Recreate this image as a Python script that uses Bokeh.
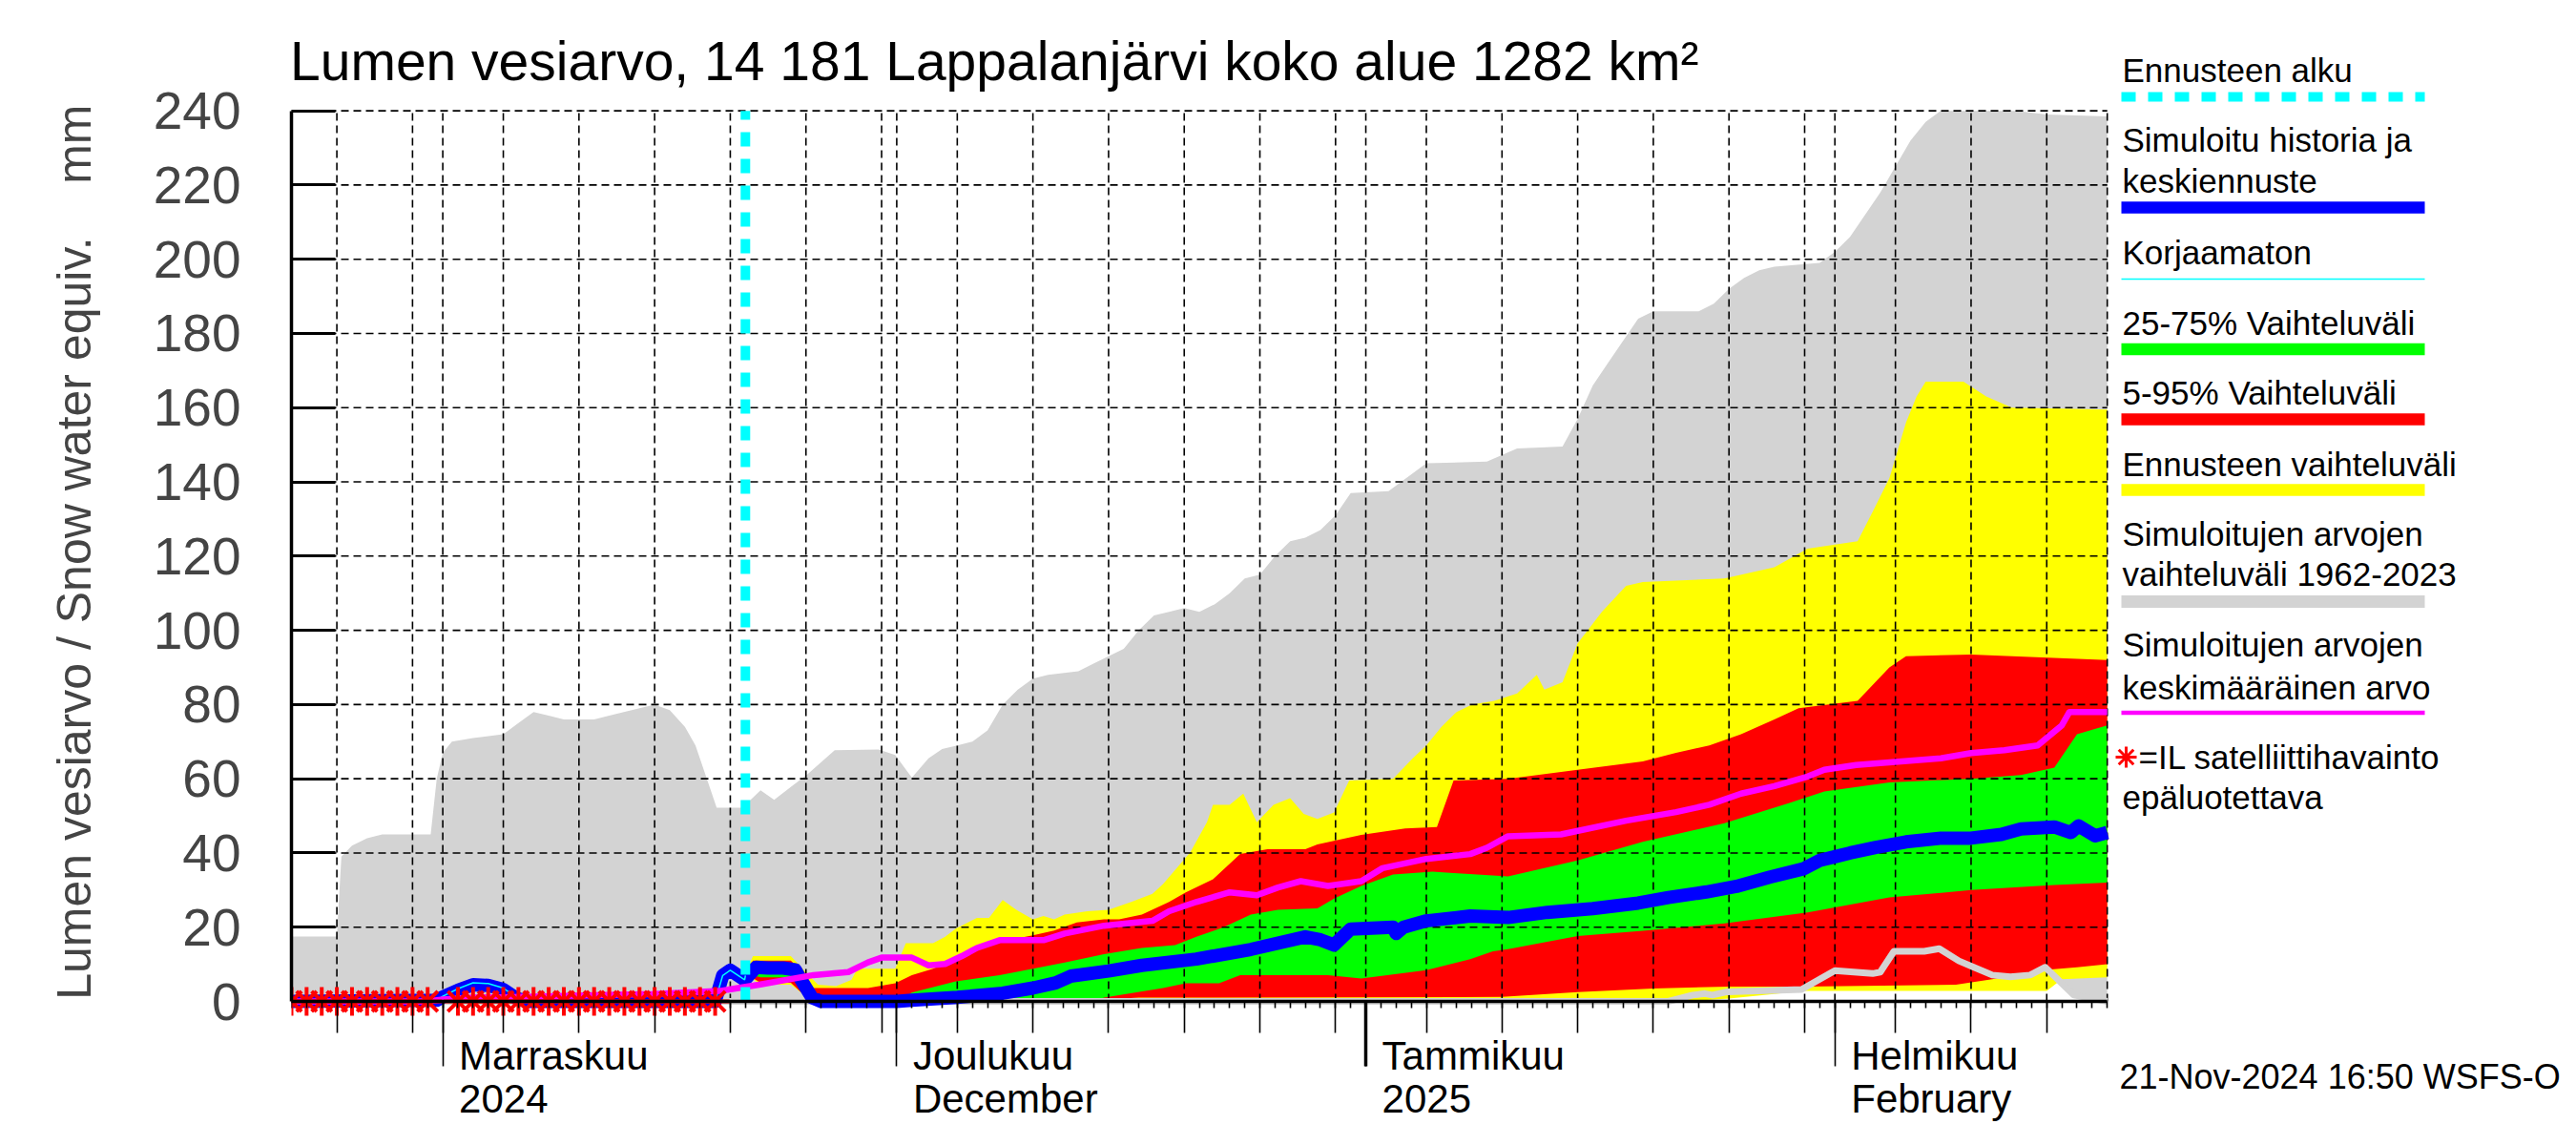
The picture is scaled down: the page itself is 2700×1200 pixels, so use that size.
import datetime as dt
from bokeh.plotting import figure
from bokeh.models import Range1d, FixedTicker, LinearAxis
from bokeh.core.properties import value
from bokeh.embed import file_html
from bokeh.resources import INLINE

FONT = "Liberation Sans"
START = dt.date(2024, 10, 22)      # day 0
END_DAY = 120                      # 19-Feb-2025
FORECAST_START = 30                # 21-Nov-2024
Y_MAX = 240

TITLE = "Lumen vesiarvo, 14 181 Lappalanjärvi koko alue 1282 km²"
NB = "\u00a0"
Y_LABEL = NB * 4 + "Lumen vesiarvo / Snow water equiv." + NB * 4 + "mm"
FOOTER = "21-Nov-2024 16:50 WSFS-O"
Y_TICKS = list(range(0, 241, 20))
MONTH_LINE1 = ["Marraskuu", "Joulukuu", "Tammikuu", "Helmikuu"]
MONTH_LINE2 = ["2024", "December", "2025", "February"]

# ---- data (day index from 22-Oct-2024, value mm) ----
HIST_MAX_D = [0, 3, 3.3, 4, 5, 6, 9.2, 9.6, 10, 10.6, 12, 14, 15, 16, 17, 18, 20, 21, 23, 24,
              25, 26, 26.7, 28.1, 29.8, 31, 31.9, 33, 34.1, 35.9, 38.8, 39.9, 41, 42.1, 43, 44, 45, 46, 47, 48,
              49, 50, 52, 53, 54, 55, 56, 57, 58, 59, 60, 61, 62, 63, 64, 65, 66, 67, 68, 69,
              70, 72.5, 74, 75, 79, 81, 84, 85, 86, 87, 88, 89, 90, 93, 94, 95, 96, 97, 98, 101,
              102, 103, 104, 105, 106, 107, 108, 109, 114, 116, 120]
HIST_MAX_V = [17.5, 17.5, 39, 42, 44, 45, 45, 60, 67, 70, 71, 72, 75, 78, 77, 76, 76, 77, 79, 80,
              78.5, 74, 69, 52.2, 52.2, 56.9, 54.3, 57.8, 61.2, 67.7, 67.9, 66.4, 60.3, 65.5, 68, 69, 70, 73, 80, 84,
              87, 88, 89, 91, 93, 95, 100, 104, 105, 106, 105, 107, 110, 114, 115, 120, 124, 125, 127, 131,
              137, 137.5, 142, 145, 145.5, 149, 149.5, 157, 166, 172, 178, 184, 186, 186, 188, 192, 195, 197, 198, 199,
              202, 206, 212, 218, 225, 232, 237, 240, 240, 239, 238.5]
HIST_MIN_D = [0, 91, 92.6, 93.4, 93.9, 94.9, 99.8, 102, 104.5, 105, 105.9, 107.9, 108.9, 110.2,
              112.4, 113.6, 114.9, 115.9, 117.8, 120]
HIST_MIN_V = [0, 0, 1.7, 2.1, 1.7, 2.6, 3.2, 8.3, 7.5, 7.9, 13.5, 13.5, 14.2, 10.9,
              7.1, 6.6, 7.1, 9.2, 1.7, 0]

FC_MAX_D = [30, 30.5, 33, 33.5, 34.8, 36, 37, 37.4, 39.9, 40.6, 42.4, 43.2, 43.9, 45.3, 46.1, 47, 47.9, 49, 49.7, 50.4,
            51.1, 52.6, 54, 55.5, 56.9, 57.6, 59.4, 60.5, 60.9, 62, 62.9, 63.8, 64.9, 66, 66.9, 67.8, 68.9, 69.9, 72.8, 74.1,
            75, 76, 77, 78, 79.5, 81, 82.3, 82.8, 84, 85, 86.6, 88.2, 89.3, 94.7, 98, 100.2, 103.5, 104.5, 105.6, 106.7,
            107.4, 108, 110.5, 112, 113.7, 120]
FC_MAX_V = [7.5, 12.2, 12.2, 10, 4.5, 4.1, 5.8, 8.8, 8.8, 15.7, 15.7, 17.4, 19.6, 22.5, 22.5, 27.3, 24.7, 22.1, 23, 22.1,
            23.4, 24.3, 24.7, 26.8, 29, 31.6, 40.2, 48.3, 53, 53, 56, 48.3, 53, 54.8, 50.5, 49.2, 50.9, 59.5, 60, 65.5,
            69, 74, 78, 80, 81, 83, 88, 84, 86, 96.5, 105, 112, 113, 114, 117, 122, 124, 132, 141, 156,
            163, 167, 167, 163, 160, 159.5]
FC_MIN_D = [30, 31, 33, 33.8, 34.5, 92, 95, 100, 116, 117, 120]
FC_MIN_V = [7.5, 4.5, 4.5, 2, 0, 0, 0.8, 2.8, 2.8, 6, 6.5]

P95_D = [30, 30.5, 33, 33.5, 34.5, 38.1, 39.9, 41, 42.4, 43.9, 45.3, 46.8, 49, 50.4, 51.9, 53.7, 54.7, 56.2, 58, 59.1,
         60.9, 62.7, 64.5, 67, 67.8, 70.7, 73.6, 75.7, 76.8, 80.4, 85, 89.3, 91.5, 93.7, 95.8, 98, 99.6, 103.5, 105.6, 106.7,
         111, 120]
P95_V = [7.5, 11, 11, 9, 3.6, 3.6, 4.9, 7.1, 8.8, 11.4, 14, 16.1, 17.8, 19.1, 21.3, 22.1, 22.1, 23.4, 26.8, 29.4,
         32.9, 39.7, 41, 41, 42.3, 44.9, 46.6, 47, 59.5, 60, 62.4, 64.7, 67, 69, 72, 76, 79, 81, 90, 93,
         93.5, 92]
P05_D = [30, 31, 33, 33.8, 34.5, 53, 54, 56, 80, 85, 90, 95, 100, 110, 112.4, 115.9, 118, 120]
P05_V = [7.5, 5, 5, 2, 0, 0, 0.6, 1, 1.2, 2.5, 3.5, 4, 4, 4.5, 6, 8.5, 9.2, 10]

P75_D = [30, 30.5, 33, 33.5, 34.5, 35, 40, 41, 43.9, 46.8, 49, 51.1, 53.7, 56.2, 58.4, 59.8, 61.6, 63.4, 65.2, 67.8,
         68.9, 70.7, 72.8, 75.4, 76.8, 80.4, 85, 89.3, 94.7, 99, 101.3, 105.6, 111, 114.3, 116.5, 118, 120]
P75_V = [7.5, 10, 10, 8, 1, 0, 0, 2.4, 5.4, 7.1, 8.8, 10.5, 12.7, 14.4, 15.2, 17.4, 20, 23.4, 24.7, 25.1,
         27.7, 31.1, 34.2, 35, 34.6, 33.7, 38, 43, 48, 53.5, 56.6, 59, 60, 61, 63, 72, 74.4]
P25_D = [30, 31, 33, 33.8, 34.5, 53, 53.7, 57.6, 59.1, 61.3, 62.7, 68.5, 70.7, 75, 77.9, 79.4, 80.4, 85, 89.3, 94.7,
         100.2, 105.6, 111, 116.5, 120]
P25_V = [7.5, 6.5, 6.5, 3, 0, 0, 1, 3.6, 4.9, 4.9, 7.1, 7.1, 6.2, 8.4, 11.4, 13.5, 14.1, 17.6, 19, 21,
         24, 28, 30, 31.4, 32]

SIM_D = [0, 9.6, 10, 11, 12, 13, 14, 14.8, 15.5, 28, 28.5, 29, 29.95, 30.7, 31.5, 32.5, 33.3, 33.8, 34.4, 35,
         40, 41, 44, 47, 49, 50.5, 51.5, 54, 56.2, 59.8, 63.4, 67, 68, 68.9, 70, 72.8, 73, 73.5, 75, 77.9,
         80.4, 83, 86, 89, 91, 93.5, 95.5, 97.7, 99.9, 101, 102, 103, 104.7, 106.7, 109, 111, 113, 114.3, 116.5, 117.6,
         118.1, 119.2, 120]
SIM_V = [0, 0.3, 1.2, 3, 4.5, 4.3, 3.2, 1, 0, 0, 7, 8.4, 5.8, 9.2, 9, 9, 8.5, 5, 1, 0,
         0, 0.3, 1.1, 2.2, 3.6, 5, 6.8, 8.2, 9.7, 11.4, 14, 17.4, 16.6, 15.2, 19.5, 20, 18.3, 20, 21.7, 23,
         22.6, 24, 25, 26.5, 28, 29.5, 31, 33.5, 35.7, 38, 39, 40, 41.5, 43, 44, 44, 45, 46.5, 47, 45.5,
         47.3, 44.6, 45.5]
UNCORR_D = [0, 9.6, 10, 11, 12, 13, 14, 14.8, 15.5, 28, 28.5, 29, 29.95, 30]
UNCORR_V = [0, 0.3, 1.4, 3.4, 5, 4.8, 3.6, 1.2, 0, 0, 7, 8.4, 5.8, 7]

MEAN_D = [0, 9, 10, 12, 16, 20, 24, 28.3, 30.9, 34.5, 36.8, 38.1, 39, 41, 42.1, 43.2, 44.3, 45.3, 46.8, 49.7,
          51.1, 53.7, 56.9, 58, 59.8, 62, 63.8, 65.2, 66.7, 68.5, 70.7, 72.1, 75, 77.9, 79, 80.4, 83.9, 88.2, 91.5, 93.7,
          95.8, 98, 100.2, 101.3, 103.4, 109, 111, 113.2, 115.4, 117, 117.5, 120]
MEAN_V = [0, 0, 0.5, 1, 1.3, 1.7, 2, 2.8, 4.5, 7.1, 7.9, 10.5, 11.8, 11.8, 9.7, 10.1, 12.2, 14.4, 16.5, 16.5,
          18.3, 20.4, 21.7, 24.3, 26.8, 29.4, 28.6, 30.7, 32.4, 31.1, 32.4, 35.9, 38.4, 39.7, 41.4, 44.5, 45, 48.7, 51, 53,
          56, 58, 60.6, 62.4, 63.7, 65.5, 66.9, 67.7, 69, 74.4, 78, 78]

SAT_D = [0, 1, 2, 3, 4, 5, 6, 7, 8, 9, 11, 12, 13, 14, 15, 16, 17, 18, 19, 20, 21, 22, 23, 24, 25, 26, 27, 28]
SAT_V = [0] * len(SAT_D)

GRAY, YELLOW, RED, GREEN = "#d3d3d3", "#ffff00", "#ff0000", "#00ff00"
BLUE, CYAN, MAGENTA = "#0000ff", "#00ffff", "#ff00ff"

# ---- layout constants (canvas pixels) ----
W, H = 2684, 1184
LEFT = 305              # frame left = day 0
TOP = 28                # frame top
ZERO_Y = 1049           # canvas y of 0 mm
PX_DAY = 15.86
PX_MM = 3.889
BASE_SHIFT = 0.33       # text glyph baseline correction (fraction of font size)


def dx(px):
    return (px - LEFT) / PX_DAY


def dy(py):
    return (ZERO_Y - py) / PX_MM


def ty(baseline, size):
    return dy(baseline - BASE_SHIFT * size)


# ---- calendar ticks ----
dates = [START + dt.timedelta(days=d) for d in range(END_DAY + 1)]
all_days = list(range(END_DAY + 1))
month_days = [d for d, t in enumerate(dates) if t.day == 1]
five_days = [d for d, t in enumerate(dates) if t.day in (5, 10, 15, 20, 25, 30)]
grid_days = sorted(five_days + month_days)
year_days = [d for d in month_days if dates[d].month == 1]

p = figure(width=W, height=H,
           x_range=Range1d(0, (W - LEFT) / PX_DAY),
           y_range=Range1d(-(H - ZERO_Y) / PX_MM, (ZERO_Y - TOP) / PX_MM),
           output_backend="svg", toolbar_location=None, x_axis_location=None,
           min_border_left=LEFT, min_border_right=0, min_border_top=TOP, min_border_bottom=0)
p.grid.visible = False
p.outline_line_color = None
p.background_fill_color = "white"
p.border_fill_color = "white"


def band(xu, yu, xl, yl, color):
    p.patch(x=list(xu) + list(xl)[::-1], y=list(yu) + list(yl)[::-1],
            fill_color=color, line_color=None, level="image")


band(HIST_MAX_D, HIST_MAX_V, HIST_MIN_D, HIST_MIN_V, GRAY)
band(FC_MAX_D, FC_MAX_V, FC_MIN_D, FC_MIN_V, YELLOW)
band(P95_D, P95_V, P05_D, P05_V, RED)
band(P75_D, P75_V, P25_D, P25_V, GREEN)

# dashed grid inside the data box
gx = grid_days + [END_DAY]
p.segment(x0=gx, y0=[0] * len(gx), x1=gx, y1=[Y_MAX] * len(gx), line_color="black",
          line_width=1.6, line_dash="8 5", level="underlay")
p.segment(x0=[0] * len(Y_TICKS), y0=Y_TICKS, x1=[END_DAY] * len(Y_TICKS), y1=Y_TICKS,
          line_color="black", line_width=1.6, line_dash="8 5", level="underlay")

p.line(HIST_MIN_D, HIST_MIN_V, line_color=GRAY, line_width=7, line_join="round")
p.line(SIM_D, SIM_V, line_color=BLUE, line_width=14, line_join="round")
p.line(UNCORR_D, UNCORR_V, line_color=CYAN, line_width=1.5)
p.line(MEAN_D, MEAN_V, line_color=MAGENTA, line_width=6.5, line_join="round")
p.line([FORECAST_START, FORECAST_START], [0, Y_MAX], line_color=CYAN, line_width=10, line_dash="15 13")
p.scatter(SAT_D, SAT_V, marker="asterisk", size=30, line_color=RED, line_width=4)

# y axis
ya = p.yaxis[0]
ya.bounds = (0, Y_MAX)
ya.ticker = FixedTicker(ticks=Y_TICKS, minor_ticks=[])
ya.major_tick_in = 46
ya.major_tick_out = 0
ya.major_tick_line_width = 3
ya.axis_line_width = 3.5
ya.major_label_text_font = FONT
ya.major_label_text_font_size = "55px"
ya.major_label_standoff = 53
ya.axis_label = Y_LABEL
ya.axis_label_text_font = FONT
ya.axis_label_text_font_size = "50px"
ya.axis_label_text_font_style = "normal"
ya.axis_label_standoff = 52

# x axis at 0 mm, ticks pointing down
blank = {d: "" for d in all_days}
common = dict(fixed_location=0, bounds=(0, END_DAY), major_label_overrides=blank,
              major_label_text_font_size="0px", major_label_standoff=0, major_tick_out=0)
xa = LinearAxis(ticker=FixedTicker(ticks=grid_days, minor_ticks=all_days),
                major_tick_in=33, minor_tick_in=7, minor_tick_out=0,
                major_tick_line_width=1.6, minor_tick_line_width=1.6, axis_line_width=3.5, **common)
p.add_layout(xa, "above")
ma = LinearAxis(ticker=FixedTicker(ticks=month_days, minor_ticks=[]), axis_line_color=None,
                major_tick_in=68, major_tick_line_width=1.6, **common)
p.add_layout(ma, "above")
ja = LinearAxis(ticker=FixedTicker(ticks=year_days, minor_ticks=[]), axis_line_color=None,
                major_tick_in=68, major_tick_line_width=3.5, **common)
p.add_layout(ja, "above")

txt = dict(text_font=value(FONT), text_baseline="alphabetic", text_align="left", text_color="black")

# month labels
p.text(x=[d + 17 / PX_DAY for d in month_days], y=[ty(1120, 42)] * 4, text=MONTH_LINE1,
       text_font_size="42px", **txt)
p.text(x=[d + 17 / PX_DAY for d in month_days], y=[ty(1165, 42)] * 4, text=MONTH_LINE2,
       text_font_size="42px", **txt)

# title
p.text(x=[dx(303.5)], y=[ty(82, 57)], text=[TITLE], text_font_size="57px", **txt)

# legend
LEG_TEXT = ["Ennusteen alku", "Simuloitu historia ja", "keskiennuste", "Korjaamaton",
            "25-75% Vaihteluväli", "5-95% Vaihteluväli", "Ennusteen vaihteluväli",
            "Simuloitujen arvojen", "vaihteluväli 1962-2023", "Simuloitujen arvojen",
            "keskimääräinen arvo", "=IL satelliittihavainto", "epäluotettava"]
LEG_TEXT_X = [2224] * 11 + [2241, 2224]
LEG_TEXT_Y = [85, 158, 201, 276, 349.5, 422.7, 497.7, 571, 613, 687, 732, 805, 847]
p.text(x=[dx(v) for v in LEG_TEXT_X], y=[ty(v, 35) for v in LEG_TEXT_Y], text=LEG_TEXT,
       text_font_size="35px", **txt)

LEG_LINES = [(101, CYAN, 10, "15 13"), (217, BLUE, 12.5, "solid"), (292, CYAN, 1.5, "solid"),
             (365.5, GREEN, 12.5, "solid"), (439, RED, 12.5, "solid"), (513, YELLOW, 12.5, "solid"),
             (630, GRAY, 13, "solid"), (746.5, MAGENTA, 4.5, "solid")]
for yy, col, w, dash in LEG_LINES:
    p.segment(x0=[dx(2223)], y0=[dy(yy)], x1=[dx(2541)], y1=[dy(yy)],
              line_color=col, line_width=w, line_dash=dash)
p.scatter(x=[dx(2228)], y=[dy(793)], marker="asterisk", size=22, line_color=RED, line_width=3)

# footer
p.text(x=[dx(2221)], y=[ty(1140, 36)], text=[FOOTER], text_font_size="36px", **txt)

open("out.html", "w").write(file_html(p, INLINE))
